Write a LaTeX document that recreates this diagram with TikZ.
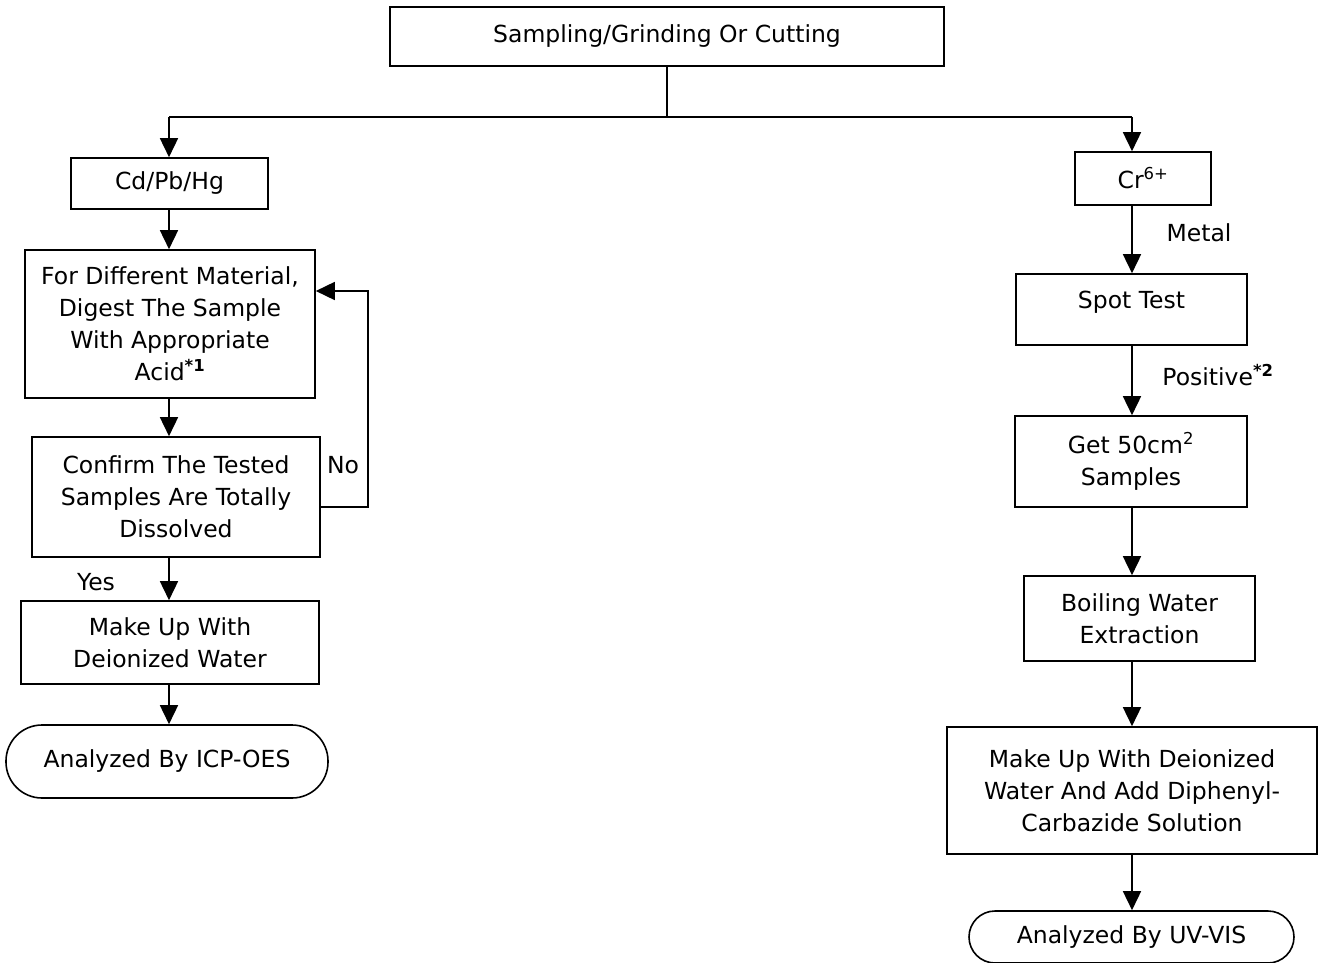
\documentclass[tikz,border=0pt]{standalone}
\usepackage{fontspec}
\setmainfont{DejaVu Sans}
\usetikzlibrary{arrows.meta}
\begin{document}
\begin{tikzpicture}[x=1pt,y=-1pt,
  txt/.style={font=\fontsize{23.5}{32}\selectfont},
  box/.style={txt, draw, line width=1.6pt, inner sep=0pt, align=center},
  arr/.style={line width=1.6pt, -{Triangle[width=18pt,length=19pt]}},
  ln/.style={line width=1.6pt}]
\useasboundingbox (0,0) rectangle (1318,963);
% columns
\coordinate (lc) at (169,0);
\coordinate (rc) at (1132,0);
\coordinate (split) at (0,117);
% nodes
\node[box, minimum width=554pt, minimum height=59pt] (top) at (667,36.5) {Sampling/Grinding Or Cutting};
\node[box, minimum width=197pt, minimum height=51pt] (cd) at (169.5,183.5) {Cd/Pb/Hg};
\node[box, minimum width=290pt, minimum height=148pt] (digest) at (170,324) {For Different Material,\\Digest The Sample\\With Appropriate\\Acid\textsuperscript{\textbf{*1}}};
\node[box, minimum width=288pt, minimum height=120pt] (confirm) at (176,497) {Confirm The Tested\\Samples Are Totally\\Dissolved};
\node[box, minimum width=298pt, minimum height=83pt] (makeup) at (170,642.5) {Make Up With\\Deionized Water};
\node[box, rounded corners=36pt, minimum width=322pt, minimum height=73pt] (icp) at (167,761.5) {Analyzed By ICP-OES};
\node[box, minimum width=136pt, minimum height=53pt] (cr) at (1143,178.5) {Cr\textsuperscript{6+}};
\node[box, minimum width=231pt, minimum height=71pt, text depth=19pt] (spot) at (1131.5,309.5) {Spot Test};
\node[box, minimum width=232pt, minimum height=91pt] (get) at (1131,461.5) {Get 50cm\textsuperscript{2}\\Samples};
\node[box, minimum width=231pt, minimum height=85pt] (boil) at (1139.5,618.5) {Boiling Water\\Extraction};
\node[box, minimum width=370pt, minimum height=127pt] (diph) at (1132,790.5) {Make Up With Deionized\\Water And Add Diphenyl-\\Carbazide Solution};
\node[box, rounded corners=26pt, minimum width=325pt, minimum height=52pt] (uv) at (1131.5,937) {Analyzed By UV-VIS};
% labels
\node[txt] (no) at (343,465) {No};
\node[txt] (yes) at (96,582) {Yes};
\node[txt] (metal) at (1199,233) {Metal};
\node[txt] (pos) at (1218,375) {Positive\textsuperscript{\textbf{*2}}};
% connectors
\draw[ln] (top.south) -- (top.south |- split);
\draw[ln] (lc |- split) -- (rc |- split);
\draw[arr] (lc |- split) -- (lc |- cd.north);
\draw[arr] (rc |- split) -- (rc |- cr.north);
\draw[arr] (lc |- cd.south) -- (lc |- digest.north);
\draw[arr] (lc |- digest.south) -- (lc |- confirm.north);
\draw[arr] (lc |- confirm.south) -- (lc |- makeup.north);
\draw[arr] (lc |- makeup.south) -- (lc |- icp.north);
\coordinate (fbout) at (368,507);
\coordinate (fbin) at (368,291);
\draw[arr] (confirm.east |- fbout) -- (fbout) -- (fbin) -- (digest.east |- fbin);
\draw[arr] (rc |- cr.south) -- (rc |- spot.north);
\draw[arr] (rc |- spot.south) -- (rc |- get.north);
\draw[arr] (rc |- get.south) -- (rc |- boil.north);
\draw[arr] (rc |- boil.south) -- (rc |- diph.north);
\draw[arr] (rc |- diph.south) -- (rc |- uv.north);
\end{tikzpicture}
\end{document}
